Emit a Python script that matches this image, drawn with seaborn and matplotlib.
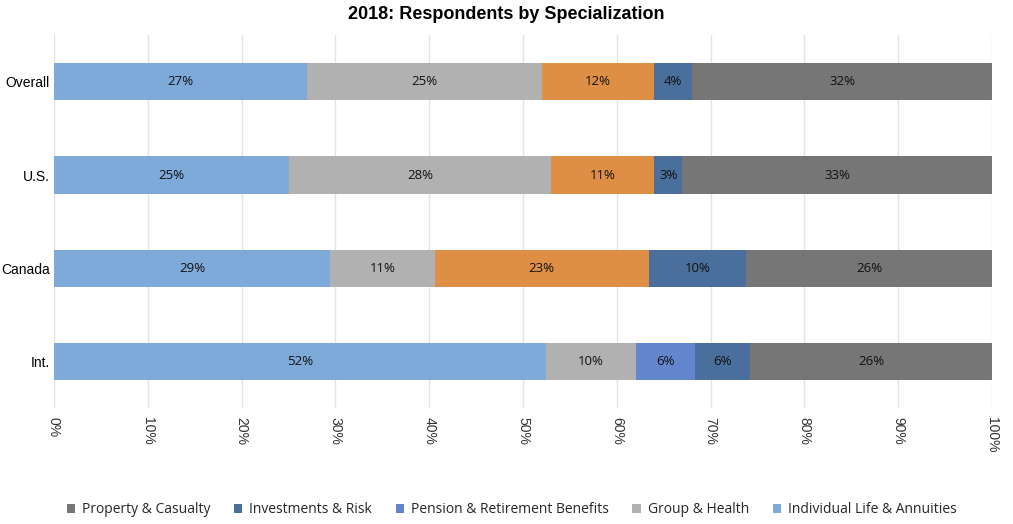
import numpy as np
import pandas as pd
import matplotlib
matplotlib.use("Agg")
import matplotlib.pyplot as plt
import seaborn as sns
from matplotlib.patches import Patch

regions = ["Overall", "U.S.", "Canada", "Int."]
individual = [27, 25, 29.4, 52.4]
group = [25, 28, 11.2, 9.6]
pension = [12, 11, 22.8, 6.3]
investments = [4, 3, 10.4, 5.9]
property_cas = [32, 33, 26.2, 25.8]
series_names = ["Individual Life & Annuities", "Group & Health",
                "Pension & Retirement Benefits", "Investments & Risk",
                "Property & Casualty"]
xticks = list(range(0, 101, 10))

colors = {
    "Individual Life & Annuities": "#7EAAD9",
    "Group & Health": "#B1B1B1",
    "Pension & Retirement Benefits": "#6486CE",
    "Investments & Risk": "#4A6F9D",
    "Property & Casualty": "#767676",
}
pension_point_colors = {"Overall": "#DF8E46", "U.S.": "#DF8E46",
                        "Canada": "#DF8E46", "Int.": "#6486CE"}

sns.set_theme(style="white")
plt.rcParams['font.family'] = ['Liberation Sans', 'DejaVu Sans']

values = [individual, group, pension, investments, property_cas]
df = pd.DataFrame({n: v for n, v in zip(series_names, values)}, index=regions)
cum = df.cumsum(axis=1)

fig = plt.figure(figsize=(10.13, 5.24), dpi=100)
ax = fig.add_axes([0.0533, 0.221, 0.9260, 0.712])

for name in reversed(series_names):
    d = pd.DataFrame({"region": regions, "cum": cum[name].values})
    if name == "Pension & Retirement Benefits":
        sns.barplot(data=d, x="cum", y="region", hue="region",
                    palette=pension_point_colors, legend=False,
                    orient="h", width=0.4, saturation=1, linewidth=0, ax=ax)
    else:
        sns.barplot(data=d, x="cum", y="region", color=colors[name],
                    orient="h", width=0.4, saturation=1, linewidth=0, ax=ax)

for i, r in enumerate(regions):
    for name in series_names:
        v = df.loc[r, name]
        c = cum.loc[r, name] - v / 2
        ax.text(c, i, f"{round(v):d}%", ha="center", va="center",
                fontsize=9.5, color="#111111", family=["Open Sans", "DejaVu Sans"])

ax.set_xlim(0, 100)
ax.set_ylim(3.5, -0.5)
ax.set_xticks(xticks)
ax.set_xticklabels([f"{t}%" for t in xticks], rotation=-90, fontsize=10, color="#333333")
ax.tick_params(axis="x", length=0, pad=6)
ax.tick_params(axis="y", length=0, pad=3, labelsize=10, labelcolor="#000000")
ax.set_xlabel("")
ax.set_ylabel("")
ax.grid(axis="x", color="#E3E3E3", linewidth=1)
ax.grid(axis="y", visible=False)
ax.set_axisbelow(True)
for s in ax.spines.values():
    s.set_visible(False)

fig.suptitle("2018: Respondents by Specialization", fontsize=13,
             fontweight="bold", color="#000000", x=0.5, y=0.988)

handles = [Patch(facecolor=colors[n], edgecolor="none") for n in reversed(series_names)]
fig.legend(handles, list(reversed(series_names)), loc="center", ncol=5,
           bbox_to_anchor=(0.505, 0.027), frameon=False,
           handlelength=0.6, handleheight=0.6, handletextpad=0.5, columnspacing=1.7,
           prop={"family": ["Open Sans", "DejaVu Sans"], "size": 10})

fig.savefig("out.png", dpi=100)
